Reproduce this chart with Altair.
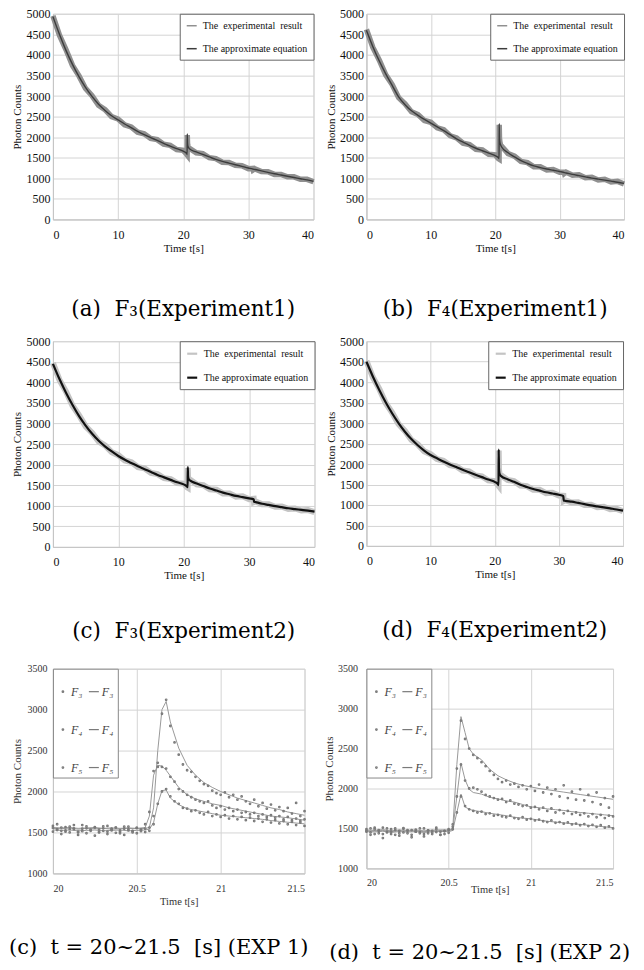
import altair as alt
import pandas as pd

SERIF = "Liberation Serif"
CAP_FONT = "DejaVu Serif"
NB = "\u00a0"

EXP_LABEL = "The" + NB + " experimental" + NB + " result"
FIT_LABEL = "The approximate equation"

# ---- top four panels: time grid and values -------------------------------
T_TOP = [0, 1, 2, 3, 4, 5, 6, 7, 8, 9, 10, 11, 12, 13, 14, 15, 16, 17, 18, 19, 20,
         20.5, 20.6, 20.62, 20.66, 20.72, 20.85,
         21, 22, 23, 24, 25, 26, 27, 28, 29, 30,
         30.7, 30.75,
         31, 32, 33, 34, 35, 36, 37, 38, 39, 40]

A_FIT = [4930, 4500, 4110, 3770, 3470, 3210, 2990, 2800, 2650, 2520, 2420, 2320, 2230, 2140, 2060, 1990, 1920, 1850, 1780, 1720, 1660,
         1610, 1580, 2080, 1860, 1780, 1740,
         1710, 1640, 1580, 1520, 1460, 1410, 1370, 1330, 1290, 1250,
         1225, 1222,
         1215, 1180, 1145, 1110, 1080, 1050, 1020, 990, 960, 925]
A_EXP = [4950, 4480, 4130, 3745, 3490, 3185, 3010, 2775, 2670, 2500, 2440, 2300, 2250, 2120, 2080, 1970, 1940, 1830, 1800, 1700, 1680,
         1590, 1570, 2050, 1850, 1790, 1725,
         1725, 1620, 1600, 1500, 1480, 1390, 1385, 1315, 1305, 1235,
         1240, 1205,
         1230, 1165, 1160, 1095, 1095, 1035, 1035, 975, 975, 915]

B_FIT = [4600, 4200, 3850, 3540, 3260, 2980, 2790, 2640, 2530, 2430, 2340, 2250, 2160, 2060, 1960, 1880, 1800, 1730, 1670, 1610, 1550,
         1500, 1480, 2330, 2000, 1880, 1810,
         1760, 1620, 1520, 1430, 1360, 1300, 1260, 1225, 1195, 1165,
         1140, 1138,
         1130, 1095, 1065, 1035, 1005, 980, 955, 930, 905, 875]
B_EXP = [4620, 4180, 3870, 3515, 3280, 2960, 2810, 2615, 2550, 2405, 2360, 2225, 2180, 2035, 1980, 1855, 1820, 1705, 1690, 1585, 1570,
         1480, 1470, 2300, 1980, 1890, 1790,
         1780, 1600, 1540, 1410, 1380, 1280, 1280, 1200, 1215, 1145,
         1150, 1120,
         1150, 1075, 1085, 1015, 1025, 960, 975, 910, 925, 860]

C_FIT = [4450, 4080, 3750, 3450, 3180, 2950, 2750, 2580, 2440, 2320, 2210, 2120, 2040, 1960, 1890, 1820, 1750, 1690, 1630, 1570, 1520,
         1470, 1450, 1940, 1720, 1660, 1630,
         1610, 1540, 1480, 1420, 1370, 1320, 1280, 1240, 1210, 1180,
         1160, 1100,
         1090, 1050, 1020, 990, 965, 940, 920, 900, 880, 858]
C_EXP = [4470, 4060, 3775, 3430, 3200, 2930, 2770, 2560, 2460, 2300, 2230, 2100, 2060, 1940, 1910, 1800, 1770, 1670, 1650, 1550, 1540,
         1450, 1440, 1920, 1700, 1670, 1610,
         1630, 1520, 1500, 1400, 1390, 1300, 1300, 1220, 1230, 1160,
         1170, 1090,
         1105, 1035, 1035, 975, 980, 925, 935, 885, 895, 845]

D_FIT = [4500, 4140, 3810, 3510, 3240, 3000, 2790, 2610, 2460, 2330, 2220, 2140, 2060, 1990, 1925, 1860, 1800, 1740, 1680, 1620, 1565,
         1510, 1485, 2350, 1900, 1780, 1730,
         1705, 1630, 1565, 1495, 1440, 1390, 1350, 1310, 1280, 1250,
         1215, 1110,
         1100, 1080, 1050, 1020, 990, 965, 940, 915, 890, 860]
D_EXP = [4520, 4120, 3835, 3490, 3260, 2980, 2810, 2590, 2480, 2310, 2240, 2120, 2080, 1970, 1945, 1840, 1820, 1720, 1700, 1600, 1585,
         1490, 1470, 2330, 1880, 1790, 1710,
         1725, 1610, 1585, 1475, 1460, 1370, 1370, 1290, 1300, 1230,
         1225, 1095,
         1115, 1060, 1065, 1000, 1005, 945, 955, 895, 905, 845]

# ---- bottom two panels (t = 20 ~ 21.5 s) -----------------------------------
T_DOT = [20.0, 20.025, 20.05, 20.075, 20.1, 20.125, 20.15, 20.175, 20.2, 20.225,
         20.25, 20.275, 20.3, 20.325, 20.35, 20.375, 20.4, 20.425, 20.45, 20.475,
         20.5, 20.525, 20.55, 20.575, 20.6, 20.625, 20.65, 20.675, 20.7, 20.725,
         20.75, 20.775, 20.8, 20.825, 20.85, 20.875, 20.9, 20.925, 20.95, 20.975,
         21.0, 21.025, 21.05, 21.075, 21.1, 21.125, 21.15, 21.175, 21.2, 21.225,
         21.25, 21.275, 21.3, 21.325, 21.35, 21.375, 21.4, 21.425, 21.45, 21.475, 21.5]

T_LINE_E = [20.0, 20.05, 20.1, 20.15, 20.2, 20.25, 20.3, 20.35, 20.4, 20.45, 20.5, 20.55,
            20.575, 20.6, 20.625, 20.65, 20.675, 20.7,
            20.75, 20.8, 20.85, 20.9, 20.95, 21.0, 21.05, 21.1, 21.15, 21.2, 21.25, 21.3, 21.35, 21.4, 21.45, 21.5]
T_LINE_F = [20.0, 20.05, 20.1, 20.15, 20.2, 20.25, 20.3, 20.35, 20.4, 20.45, 20.5,
            20.525, 20.55, 20.575, 20.6, 20.625, 20.65, 20.7,
            20.75, 20.8, 20.85, 20.9, 20.95, 21.0, 21.05, 21.1, 21.15, 21.2, 21.25, 21.3, 21.35, 21.4, 21.45, 21.5]

E_F3_DOT = [1580, 1530, 1560, 1510, 1570, 1540, 1500, 1590, 1550, 1520, 1565, 1535, 1575, 1510, 1545, 1560, 1525, 1570, 1540, 1515, 1555, 1530, 1545,
            1560, 1700, 2300, 2950, 3120, 2800, 2600, 2450, 2330, 2260, 2240, 2180, 2130, 2090, 2070, 2010, 1980, 1960, 1990, 1930,
            1960, 1900, 1940, 1880, 1850, 1900, 1820, 1860, 1790, 1840, 1770, 1810, 1760, 1800, 1730, 1860, 1700, 1760]
E_F4_DOT = [1555, 1600, 1520, 1565, 1540, 1590, 1510, 1545, 1575, 1530, 1560, 1500, 1550, 1580, 1525, 1560, 1490, 1545, 1570, 1520, 1555, 1535, 1600,
            1750, 2250, 2350, 2300, 2280, 2180, 2120, 2030, 2000, 1960, 1930, 1900, 1880, 1860, 1880, 1830, 1800, 1820, 1780, 1800,
            1760, 1780, 1740, 1750, 1720, 1740, 1700, 1720, 1690, 1710, 1680, 1700, 1660, 1690, 1650, 1670, 1640, 1660]
E_F5_DOT = [1510, 1540, 1480, 1525, 1500, 1550, 1470, 1515, 1490, 1530, 1460, 1505, 1520, 1480, 1540, 1495, 1510, 1470, 1525, 1500, 1490, 1515, 1505,
            1520, 1600, 1850, 2000, 2030, 1940, 1880, 1850, 1800, 1790, 1760, 1770, 1740, 1720, 1750, 1700, 1720, 1690, 1710, 1670,
            1700, 1660, 1690, 1650, 1680, 1640, 1670, 1630, 1660, 1620, 1650, 1610, 1640, 1600, 1630, 1590, 1620, 1580]

E_F3_LINE = [1550, 1545, 1555, 1540, 1550, 1545, 1550, 1540, 1545, 1550, 1545, 1550,
             1560, 1800, 2500, 3000, 3100, 2850,
             2530, 2320, 2200, 2110, 2050, 2000, 1960, 1920, 1890, 1860, 1830, 1800, 1780, 1750, 1730, 1710]
E_F4_LINE = [1560, 1555, 1560, 1550, 1555, 1560, 1550, 1555, 1550, 1555, 1550, 1560,
             1700, 2200, 2320, 2310, 2260, 2190,
             2050, 1960, 1910, 1880, 1850, 1830, 1800, 1780, 1760, 1740, 1720, 1700, 1690, 1680, 1665, 1650]
E_F5_LINE = [1530, 1525, 1530, 1520, 1525, 1530, 1520, 1525, 1530, 1520, 1525, 1530,
             1540, 1620, 1850, 2010, 2020, 1920,
             1840, 1790, 1770, 1750, 1730, 1710, 1700, 1690, 1680, 1670, 1660, 1645, 1635, 1625, 1615, 1605]

F_F3_DOT = [1460, 1500, 1430, 1480, 1510, 1450, 1490, 1420, 1470, 1505, 1440, 1480, 1460, 1500, 1430, 1475, 1450, 1490, 1420, 1465, 1480,
            1520, 2250, 2850, 2620, 2500, 2420, 2380, 2330, 2280, 2220, 2170, 2120, 2080, 2100, 2050, 2060, 2020, 2040, 1990, 2030,
            1970, 2050, 1950, 2010, 1930, 1990, 1900, 2040, 1880, 1960, 1860, 1990, 1850, 1920, 1830, 1950, 1800, 1880, 1760, 1900]
F_F4_DOT = [1490, 1450, 1510, 1470, 1430, 1500, 1460, 1480, 1440, 1495, 1470, 1420, 1485, 1455, 1500, 1440, 1470, 1510, 1460, 1430, 1490,
            1550, 1900, 2300, 2100, 2000, 2010, 1990, 1960, 1920, 1900, 1880, 1860, 1870, 1830, 1850, 1810, 1800, 1780, 1790, 1760,
            1770, 1740, 1760, 1720, 1750, 1700, 1730, 1690, 1720, 1680, 1700, 1670, 1690, 1650, 1680, 1640, 1670, 1630, 1660, 1650]
F_F5_DOT = [1470, 1420, 1490, 1440, 1380, 1460, 1430, 1500, 1410, 1450, 1480, 1390, 1460, 1440, 1400, 1475, 1430, 1455, 1420, 1470, 1445,
            1490, 1700, 1900, 1780, 1740, 1720, 1700, 1710, 1680, 1690, 1660, 1670, 1650, 1640, 1660, 1630, 1620, 1640, 1610, 1620,
            1600, 1610, 1590, 1580, 1600, 1570, 1580, 1560, 1575, 1550, 1560, 1540, 1555, 1530, 1545, 1520, 1540, 1510, 1525, 1500]

F_F3_LINE = [1480, 1475, 1485, 1470, 1480, 1475, 1480, 1470, 1478, 1482, 1480,
             1500, 2300, 2900, 2700, 2500, 2430, 2360,
             2240, 2160, 2110, 2070, 2040, 2020, 2000, 1985, 1970, 1955, 1940, 1925, 1910, 1895, 1880, 1865]
F_F4_LINE = [1470, 1465, 1475, 1460, 1470, 1465, 1470, 1460, 1468, 1472, 1470,
             1490, 1900, 2320, 2110, 1990, 1950, 1930,
             1890, 1870, 1845, 1830, 1800, 1770, 1760, 1745, 1735, 1725, 1710, 1700, 1690, 1680, 1670, 1660]
F_F5_LINE = [1460, 1455, 1465, 1450, 1460, 1455, 1460, 1450, 1458, 1462, 1460,
             1475, 1700, 1930, 1770, 1740, 1725, 1710,
             1690, 1675, 1660, 1640, 1630, 1620, 1605, 1590, 1580, 1570, 1560, 1550, 1540, 1530, 1520, 1510]

KEYS = ["F₃", "F₃ ", "F₄", "F₄ ", "F₅", "F₅ "]
DOT = "M-0.16,0A0.16,0.16,0,1,1,0.16,0A0.16,0.16,0,1,1,-0.16,0Z"
SHAPES = [DOT, "stroke", DOT, "stroke", DOT, "stroke"]

CAPTIONS = ["(a)" + NB + NB + "F₃(Experiment1)", "(b)" + NB + NB + "F₄(Experiment1)",
            "(c)" + NB + NB + "F₃(Experiment2)", "(d)" + NB + NB + "F₄(Experiment2)",
            "(c)" + NB + NB + "t = 20~21.5" + NB + NB + "[s] (EXP 1)",
            "(d)" + NB + NB + "t = 20~21.5" + NB + NB + "[s] (EXP 2)"]

GRID = "#d4d4d4"
CAP_SIZE = 21.5
CAP_SIZE_BOTTOM = 21


def top_panel(fit, exp, exp_color, exp_w, fit_color, fit_w, sym_w, caption, w, h, cap_offset):
    d_exp = pd.DataFrame({"t": T_TOP, "v": exp, "s": EXP_LABEL})
    d_fit = pd.DataFrame({"t": T_TOP, "v": fit, "s": FIT_LABEL})
    x = alt.X("t:Q", scale=alt.Scale(domain=[0, 40], nice=False),
              axis=alt.Axis(values=[0, 10, 20, 30, 40], format="d", title="Time t[s]",
                            labelFont=SERIF, titleFont=SERIF,
                            labelFontSize=12, titleFontSize=11, labelPadding=10, titlePadding=2))
    y = alt.Y("v:Q", scale=alt.Scale(domain=[0, 5000], nice=False),
              axis=alt.Axis(values=list(range(0, 5001, 500)), format="d", title="Photon Counts",
                            labelFont=SERIF, titleFont=SERIF,
                            labelFontSize=12, titleFontSize=11, labelPadding=3, titlePadding=3))
    color = alt.Color("s:N", scale=alt.Scale(domain=[EXP_LABEL, FIT_LABEL], range=[exp_color, fit_color]),
                      legend=alt.Legend(title=None, orient="top-right", offset=0, padding=6, rowPadding=12,
                                        labelFont=SERIF, labelFontSize=10, labelColor="#111", labelOffset=5,
                                        symbolType="stroke", symbolSize=100, symbolStrokeWidth=sym_w,
                                        strokeColor="#666", fillColor="white"))
    band = alt.Chart(d_exp).mark_line(strokeWidth=exp_w).encode(x=x, y=y, color=color)
    line = alt.Chart(d_fit).mark_line(strokeWidth=fit_w, interpolate="monotone").encode(x=x, y=y, color=color)
    return alt.layer(band, line).properties(
        width=w, height=h,
        title=alt.TitleParams(caption, orient="bottom", offset=cap_offset, font=CAP_FONT, fontSize=CAP_SIZE,
                              fontWeight="normal", color="black", anchor="middle"))


def zoom_panel(dots, lines, t_line, caption, w, h, ylab_pad, ytitle_pad, xlab_pad, xtitle_pad, cap_offset, cap_dx):
    rows_d, rows_l = [], []
    for k, vals in zip(["F₃", "F₄", "F₅"], dots):
        for t, v in zip(T_DOT, vals):
            rows_d.append({"t": t, "v": v, "k": k})
    for k, vals in zip(["F₃ ", "F₄ ", "F₅ "], lines):
        for t, v in zip(t_line, vals):
            rows_l.append({"t": t, "v": v, "k": k})
    dd = pd.DataFrame(rows_d)
    dl = pd.DataFrame(rows_l)
    x = alt.X("t:Q", scale=alt.Scale(domain=[20, 21.5], nice=False),
              axis=alt.Axis(values=[20, 20.5, 21, 21.5], format="~g", title="Time t[s]",
                            labelFont=SERIF, titleFont=SERIF,
                            labelFontSize=10, titleFontSize=10.5, labelPadding=xlab_pad, titlePadding=xtitle_pad,
                            labelColor="#333", titleColor="#333"))
    y = alt.Y("v:Q", scale=alt.Scale(domain=[1000, 3500], nice=False),
              axis=alt.Axis(values=[1000, 1500, 2000, 2500, 3000, 3500], format="d", title="Photon Counts",
                            labelFont=SERIF, titleFont=SERIF,
                            labelFontSize=10, titleFontSize=11, labelPadding=ylab_pad, titlePadding=ytitle_pad,
                            labelColor="#333", titleColor="#333"))
    ln = alt.Chart(dl).mark_line(color="#999999", strokeWidth=1).encode(x=x, y=y, detail="k:N")
    pts = alt.Chart(dd).mark_point(filled=False, color="#7a7a7a", strokeWidth=1.2, size=100, opacity=1).encode(
        x=x, y=y,
        shape=alt.Shape("k:N", scale=alt.Scale(domain=KEYS, range=SHAPES),
                        legend=alt.Legend(title=" ", titleFontSize=10, titlePadding=3, orient="top-left", offset=0,
                                          direction="horizontal", columns=2, columnPadding=3, rowPadding=26,
                                          padding=4, symbolSize=100,
                                          symbolStrokeColor="#7a7a7a", symbolStrokeWidth=1.2,
                                          labelFont=SERIF, labelFontSize=12, labelFontStyle="italic",
                                          labelOffset=2, labelColor="#444", strokeColor="#888", fillColor="white")))
    return alt.layer(ln, pts).properties(
        width=w, height=h,
        title=alt.TitleParams(caption, orient="bottom", offset=cap_offset, dx=cap_dx, font=CAP_FONT,
                              fontSize=CAP_SIZE_BOTTOM, fontWeight="normal", color="black", anchor="middle"))


pa = top_panel(A_FIT, A_EXP, "#909090", 5.5, "#3c3c3c", 1.4, 1.5, CAPTIONS[0], 261, 206, 46)
pb = top_panel(B_FIT, B_EXP, "#909090", 5.5, "#3c3c3c", 1.4, 1.5, CAPTIONS[1], 258, 206, 46)
pc = top_panel(C_FIT, C_EXP, "#c4c4c4", 6, "#111111", 2.2, 2.2, CAPTIONS[2], 262, 206, 40)
pd_ = top_panel(D_FIT, D_EXP, "#c4c4c4", 6, "#111111", 2.2, 2.2, CAPTIONS[3], 257, 205, 40)
pe = zoom_panel([E_F3_DOT, E_F4_DOT, E_F5_DOT], [E_F3_LINE, E_F4_LINE, E_F5_LINE], T_LINE_E,
                CAPTIONS[4], 252, 205, 6, 4, 10, 3, 30, -20)
pf = zoom_panel([F_F3_DOT, F_F4_DOT, F_F5_DOT], [F_F3_LINE, F_F4_LINE, F_F5_LINE], T_LINE_F,
                CAPTIONS[5], 247, 200, 9, 3, 9, -3, 47, -10)

chart = alt.concat(pa, pb, pc, pd_, pe, pf, columns=2, bounds="flush",
                   spacing=alt.RowColnumber(row=122, column=52)).resolve_scale(
    color="independent", shape="independent"
).resolve_legend(color="independent", shape="independent").properties(
    padding={"left": 0, "top": -5, "right": 0, "bottom": 0}
).configure_view(stroke=GRID).configure_axis(
    grid=True, gridColor=GRID, gridWidth=1, domainColor="#c4c4c4", ticks=False,
    labelFont=SERIF, titleFont=SERIF, titleFontWeight="normal", labelColor="#111", titleColor="#111"
)

chart.save("out.html", embed_options={"renderer": "svg", "actions": False})
